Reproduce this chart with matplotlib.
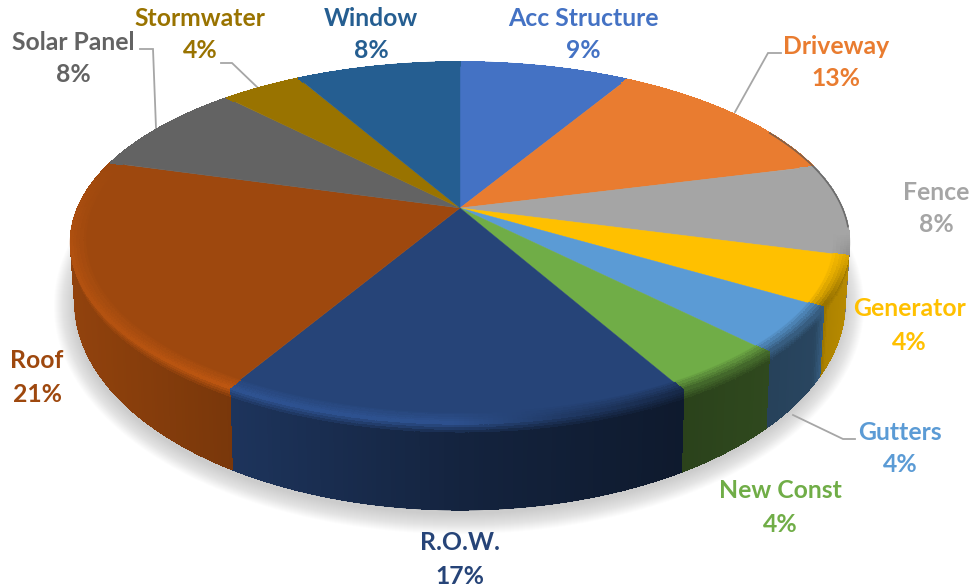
import numpy as np
import matplotlib
matplotlib.use('Agg')
import matplotlib.pyplot as plt
from matplotlib.collections import PolyCollection, LineCollection
from matplotlib.colors import to_rgb

plt.rcParams['font.family'] = ['Lato', 'DejaVu Sans']

# Data
categories = ['Acc Structure', 'Driveway', 'Fence', 'Generator', 'Gutters', 'New Const',
              'R.O.W.', 'Roof', 'Solar Panel', 'Stormwater', 'Window']
shares = [8.5, 12.5, 8.2, 4.4, 4.1, 4.2, 16.5, 21.0, 8.4, 4.0, 8.2]
pct_labels = ['9%', '13%', '8%', '4%', '4%', '4%', '17%', '21%', '8%', '4%', '8%']
colors = ['#4472C4', '#E97C30', '#A5A5A5', '#FFC000', '#5B9BD5', '#70AD47',
          '#264478', '#9E480E', '#636363', '#997300', '#255E91']

# Label centres in pixels
label_x = [583, 836, 936, 909, 900, 780, 460, 37, 73, 200, 371]
label_y = [18, 46, 192, 309, 432, 491, 543, 361, 42, 18, 18]

# leader lines, pixels
leaders = [([781, 768, 735], [53, 53, 112]),
           ([855, 843, 793], [439, 439, 415]),
           ([140, 153, 156], [49, 49, 128]),
           ([221, 232, 257], [63, 63, 87])]

# perspective of the disc
CX = 460
K = 0.191
TOP_A, TOP_B, TOP_Y = 382.3, 173.9, 208
BOT_A, BOT_B, BOT_Y = 378.0, 200.4, 262


def project(theta, r, A, B, y0):
    X = r * np.sin(theta)
    Y = r * np.cos(theta)
    w = 1 + K * Y
    return CX + A * X / w, y0 - B * Y / w


def top_pt(theta, r=1.0):
    return project(theta, r, TOP_A, TOP_B, TOP_Y)


def bot_pt(theta):
    return project(theta, 1.0, BOT_A, BOT_B, BOT_Y)


def wall_shade(x):
    return np.interp(x, [70, 235, 460, 680, 765, 815, 828, 850], [0.92, 0.76, 0.52, 0.38, 0.42, 0.45, 0.68, 0.72])


def rim_factor(x):
    return np.interp(x, [70, 250, 450, 560, 680, 850], [1.12, 1.2, 1.18, 0.85, 0.6, 0.6])


def rim_weight(theta):
    # right side only darkens past the Generator slice, left side lights up from the limb
    if np.sin(theta) > 0:
        return np.clip((-0.15 - np.cos(theta)) / 0.35, 0, 1)
    return np.clip((0.25 - np.cos(theta)) / 0.5, 0, 1)


def scale(c, f):
    c = np.array(c) * f
    return tuple(np.clip(c, 0, 1))


def mix(a, b, t):
    return tuple(np.array(a) * (1 - t) + np.array(b) * t)


fig = plt.figure(figsize=(9.71, 5.87), dpi=100)
ax = fig.add_axes([0, 0, 1, 1])
ax.set_xlim(0, 971)
ax.set_ylim(587, 0)
ax.axis('off')

edges = np.radians(np.concatenate([[0], np.cumsum(shares)]) * 3.6)

# soft shadow under the pie
t = np.linspace(0, 2 * np.pi, 240)
for grow in np.linspace(20, 0, 21):
    sx = CX + (BOT_A / np.sqrt(1 - K**2) + grow) * np.cos(t) - 1
    sy = 306 + (208 + grow) * np.sin(t)
    ax.fill(sx, sy, color='#808080', alpha=0.02, lw=0, zorder=1)

# side walls, no antialiasing between strips so no seams show
wall_polys, wall_cols = [], []
wall_lines, wall_line_cols = [], []
steps = [0, 0.03, 0.06, 0.09, 0.12, 1.0]
for i, c in enumerate(colors):
    base = to_rgb(c)
    n = max(int((edges[i + 1] - edges[i]) / np.radians(0.6)), 2)
    th = np.linspace(edges[i], edges[i + 1], n + 1)
    for a, b in zip(th[:-1], th[1:]):
        if np.cos((a + b) / 2) > 0.15:
            continue
        xa, ya = top_pt(a)
        xb, yb = top_pt(b)
        xc, yc = bot_pt(b)
        xd, yd = bot_pt(a)
        xm = (xa + xb) / 2
        wall = scale(base, wall_shade(xm))
        rim = scale(base, rim_factor(xm))
        for s0, s1 in zip(steps[:-1], steps[1:]):
            wall_polys.append([(xa + (xd - xa) * s0, ya + (yd - ya) * s0),
                               (xb + (xc - xb) * s0, yb + (yc - yb) * s0),
                               (xb + (xc - xb) * s1, yb + (yc - yb) * s1),
                               (xa + (xd - xa) * s1, ya + (yd - ya) * s1)])
            wall_cols.append(mix(rim, wall, min(s0 / 0.12, 1)))
        wall_lines.append([(xd, yd), (xc, yc)])
        wall_line_cols.append(wall)
ax.add_collection(LineCollection(wall_lines, colors=wall_line_cols, linewidths=1.0, zorder=2))
ax.add_collection(PolyCollection(wall_polys, facecolors=wall_cols, edgecolors=wall_cols,
                                 linewidths=0.5, antialiaseds=False, zorder=2.1))

# top face, with the bevel round its edge
rings = [0.96, 0.97, 0.98, 0.988, 0.995, 1.0]
wedge_polys, wedge_cols = [], []
band_polys, band_cols = [], []
edge_lines, edge_cols = [], []
for i, c in enumerate(colors):
    base = to_rgb(c)
    n = max(int((edges[i + 1] - edges[i]) / np.radians(0.6)), 2)
    th = np.linspace(edges[i], edges[i + 1], n + 1)
    x, y = top_pt(th, rings[0])
    px, py = top_pt(0.0, 0.0)
    wedge_polys.append([(px, py)] + list(zip(x, y)))
    wedge_cols.append(base)
    for a, b in zip(th[:-1], th[1:]):
        mid = (a + b) / 2
        xm, _ = top_pt(mid)
        weight = rim_weight(mid)
        rim = scale(base, rim_factor(xm))
        for j in range(len(rings) - 1):
            r0, r1 = rings[j], rings[j + 1]
            xa, ya = top_pt(a, r0)
            xb, yb = top_pt(b, r0)
            xc, yc = top_pt(b, r1)
            xd, yd = top_pt(a, r1)
            band_polys.append([(xa, ya), (xb, yb), (xc, yc), (xd, yd)])
            band_cols.append(mix(base, rim, weight * (j + 1) / (len(rings) - 1)))
        xa, ya = top_pt(a)
        xb, yb = top_pt(b)
        edge_lines.append([(xa, ya), (xb, yb)])
        edge_cols.append(mix(base, rim, weight))
ax.add_collection(LineCollection(edge_lines, colors=edge_cols, linewidths=1.0, zorder=3))
ax.add_collection(PolyCollection(band_polys, facecolors=band_cols, edgecolors=band_cols,
                                 linewidths=0.5, antialiaseds=False, zorder=3.1))
ax.add_collection(PolyCollection(wedge_polys, facecolors=wedge_cols, edgecolors=wedge_cols,
                                 linewidths=0.3, zorder=3.2))

# thin dark limb on the right-hand side of the disc
th = np.radians(np.linspace(62, 96, 60))
lx, ly = top_pt(th)
ax.plot(lx, ly, color='#555555', lw=1.2, alpha=0.7, zorder=4)

for xs, ys in leaders:
    ax.plot(xs, ys, color='#A6A6A6', lw=1.3, zorder=1.5, solid_joinstyle='miter')

for name, pct, x, y, c in zip(categories, pct_labels, label_x, label_y, colors):
    ax.text(x, y, name, color=c, fontsize=17.8, fontweight='bold', ha='center', va='center', zorder=5)
    ax.text(x, y + 33, pct, color=c, fontsize=17.8, fontweight='bold', ha='center', va='center', zorder=5)

fig.savefig('out.png', dpi=100)
